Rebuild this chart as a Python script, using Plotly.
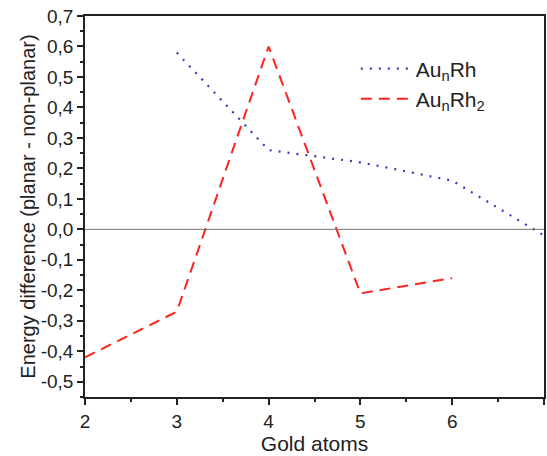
import plotly.graph_objects as go

x_rh = [3, 4, 5, 6, 7]
y_rh = [0.58, 0.26, 0.22, 0.16, -0.02]
x_rh2 = [2, 3, 4, 5, 6]
y_rh2 = [-0.42, -0.27, 0.60, -0.21, -0.16]
x_ticks = [2, 3, 4, 5, 6, 7]
y_ticks = [0.7, 0.6, 0.5, 0.4, 0.3, 0.2, 0.1, 0.0, -0.1, -0.2, -0.3, -0.4, -0.5]
y_labels = ["0,7", "0,6", "0,5", "0,4", "0,3", "0,2", "0,1", "0,0",
            "-0,1", "-0,2", "-0,3", "-0,4", "-0,5"]

fig = go.Figure()
fig.add_hline(y=0, line=dict(color="#777777", width=1))
fig.add_trace(go.Scatter(x=x_rh, y=y_rh, mode="lines", name="Au<sub>n</sub>Rh",
                         line=dict(color="#3a3ab0", width=2.2, dash="2px,7px")))
fig.add_trace(go.Scatter(x=x_rh2, y=y_rh2, mode="lines", name="Au<sub>n</sub>Rh<sub>2</sub>",
                         line=dict(color="#ff2020", width=2, dash="11px,7px")))

fig.update_layout(
    width=547, height=456,
    margin=dict(l=85, r=1, t=16, b=59),
    plot_bgcolor="white", paper_bgcolor="white",
    font=dict(family="Liberation Sans, Arial, sans-serif", color="#222222", size=18),
    showlegend=True,
    legend=dict(x=0.59, y=0.915, xanchor="left", yanchor="top",
                font=dict(size=21), bgcolor="rgba(0,0,0,0)", itemwidth=50,
                tracegroupgap=0),
)
fig.update_xaxes(range=[2, 7], tickvals=x_ticks, ticktext=[str(v) for v in x_ticks],
                 ticks="outside", ticklen=6, tickwidth=1.5, tickcolor="#222",
                 showline=True, linecolor="#222", linewidth=1.5, mirror=True,
                 showgrid=False, zeroline=False,
                 minor=dict(dtick=0.5, ticks="outside", ticklen=3, tickcolor="#222", showgrid=False),
                 title=dict(text="Gold atoms", font=dict(size=21), standoff=4),
                 tickfont=dict(size=19))
fig.update_yaxes(range=[-0.55, 0.7], tickvals=y_ticks, ticktext=y_labels,
                 ticks="outside", ticklen=6, tickwidth=1.5, tickcolor="#222",
                 showline=True, linecolor="#222", linewidth=1.5, mirror=True,
                 showgrid=False, zeroline=False,
                 minor=dict(tick0=0, dtick=0.05, ticks="outside", ticklen=3, tickcolor="#222", showgrid=False),
                 title=dict(text="Energy difference (planar - non-planar)", font=dict(size=20), standoff=0),
                 tickfont=dict(size=19))

fig.write_html("out.html")
